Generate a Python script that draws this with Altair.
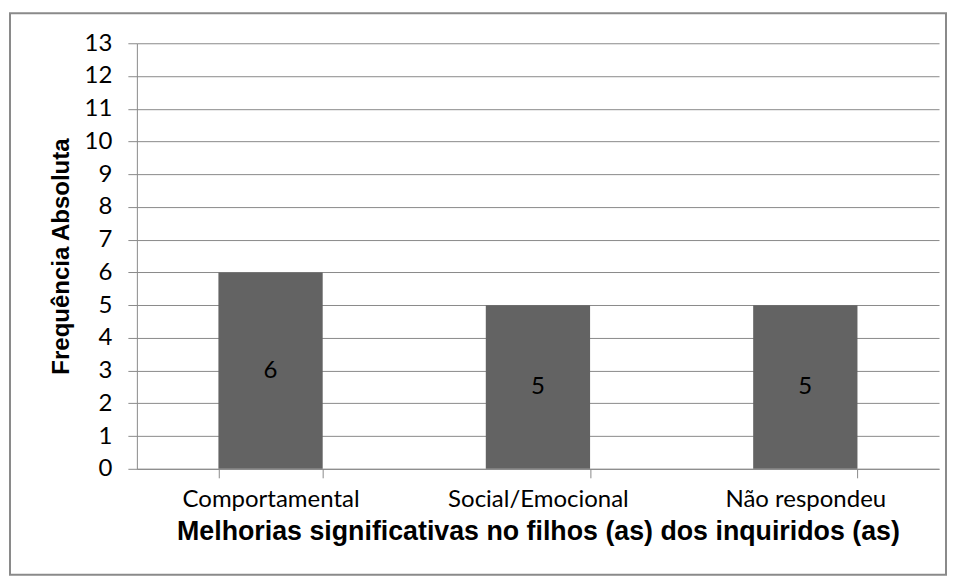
import altair as alt
import pandas as pd

categories = ["Comportamental", "Social/Emocional", "Não respondeu"]
values = [6, 5, 5]
y_ticks = list(range(0, 14))

df = pd.DataFrame({"cat": categories, "val": values})
df["mid"] = df["val"] / 2

W, H = 803, 426
grid = "#8a8a8a"

x_axis = alt.Axis(title="Melhorias significativas no filhos (as) dos inquiridos (as)",
                  labelAngle=0, labelFont="Lato", labelFontSize=24, labelColor="#000",
                  labelLimit=0, labelPadding=10, tickBand="extent", tickSize=9, tickColor=grid,
                  domainColor=grid, titleFont="Liberation Sans", titleFontSize=26.8,
                  titleFontWeight="bold", titleColor="#000", titlePadding=7)
x_scale = alt.Scale(paddingInner=0.61, paddingOuter=0.305)

y_axis = alt.Axis(title="Frequência Absoluta", values=y_ticks, tickSize=9,
                  tickColor=grid, domainColor=grid, gridColor=grid, grid=True,
                  labelOverlap=False, labelFlush=False,
                  labelFont="Lato", labelFontSize=24, labelColor="#000", labelPadding=16,
                  titleFont="Liberation Sans", titleFontSize=24, titleFontWeight="bold",
                  titleColor="#000", titlePadding=11)
y_scale = alt.Scale(domain=[0, 13], nice=False)

bars = alt.Chart(df).mark_bar(color="#636363").encode(
    x=alt.X("cat:N", sort=categories, scale=x_scale, axis=x_axis),
    y=alt.Y("val:Q", scale=y_scale, axis=y_axis),
)

text = alt.Chart(df).mark_text(font="Lato", fontSize=24, color="#000").encode(
    x=alt.X("cat:N", sort=categories, scale=x_scale, axis=x_axis),
    y=alt.Y("mid:Q", scale=y_scale, axis=y_axis),
    text=alt.Text("val:Q"))

border = alt.Chart(pd.DataFrame({"a": [0]})).mark_rect(
    fill=None, stroke="#8a8a8a", strokeWidth=2).encode(
    x=alt.value(-127), x2=alt.value(W + 7), y=alt.value(-30), y2=alt.value(H + 106))

chart = alt.layer(bars, text, border).properties(
    width=W, height=H,
    autosize=alt.AutoSizeParams(type="none"),
    padding={"left": 129, "top": 35, "right": 8, "bottom": 108},
).configure_view(stroke=None).configure_axis(gridWidth=1, domainWidth=1, tickWidth=1)

chart.save("out.html", embed_options={"renderer": "svg", "actions": False})
